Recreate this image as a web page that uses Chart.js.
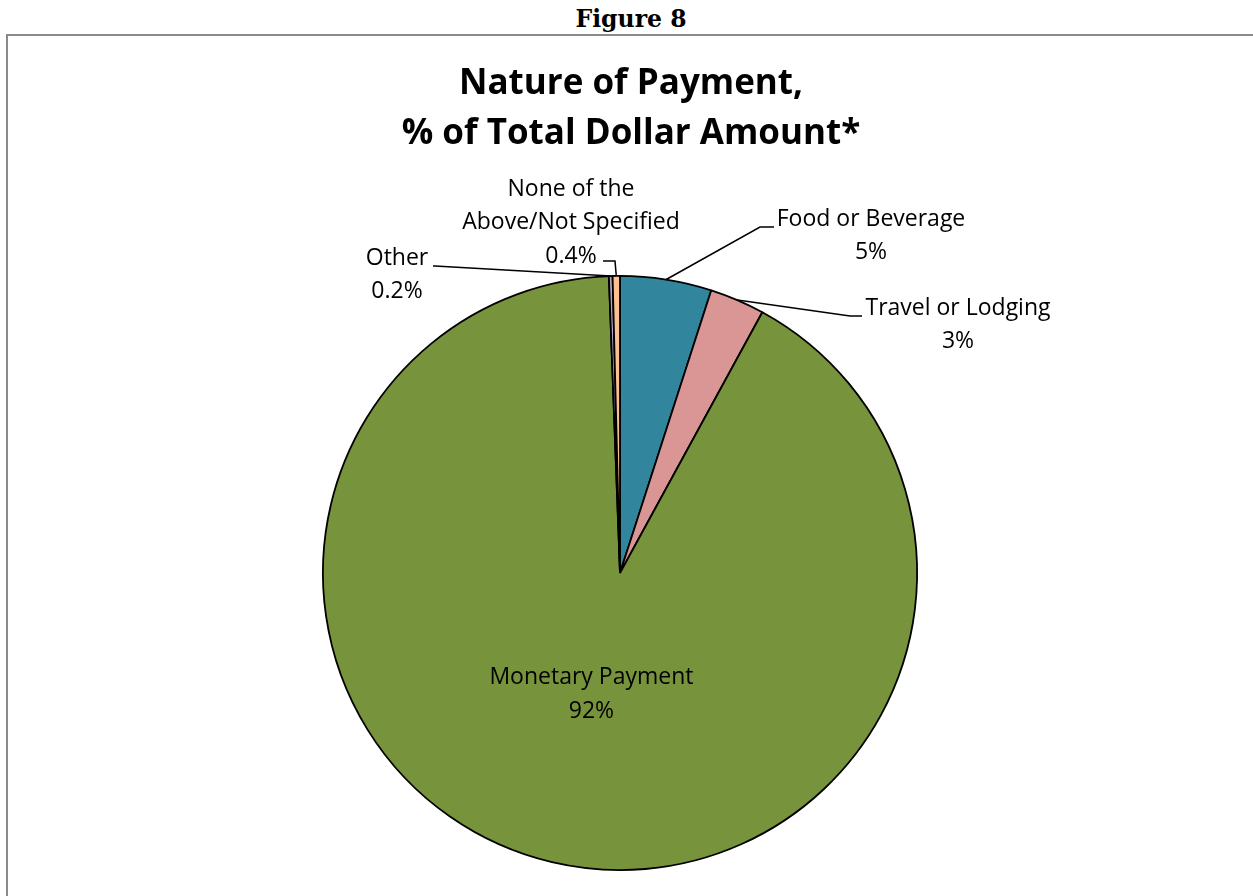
<!DOCTYPE html>
<html>
<head>
<meta charset="utf-8">
<script src="https://cdn.jsdelivr.net/npm/chart.js@4/dist/chart.umd.min.js"></script>
<style>
html, body { margin: 0; padding: 0; background: #fff; overflow: hidden; }
#wrap { position: relative; width: 1253px; height: 896px; }
#fig { position: absolute; left: 0; top: 5px; width: 1262px; text-align: center;
       font: bold 23.5px/28px "DejaVu Serif", serif; color: #000; }
#frame { position: absolute; left: 6px; top: 34px; width: 1300px; height: 900px;
         border-left: 2px solid #8a8a8a; border-top: 2px solid #8a8a8a; }
#myChart { position: absolute; left: 0; top: 0; }
</style>
</head>
<body>
<div id="wrap">
  <div id="fig">Figure 8</div>
  <div id="frame"></div>
  <canvas id="myChart" width="1253" height="896"></canvas>
</div>
<script>
// categories clockwise from 12 o'clock
var categories = [['Food or Beverage'], ['Travel or Lodging'], ['Monetary Payment'], ['Other'], ['None of the', 'Above/Not Specified']];
var percents = [5, 3, 92, 0.2, 0.4];
var sliceColors = ['#31859C', '#D99694', '#77933C', '#B3A2C7', '#FAC090'];

var titleLines = ['Nature of Payment,', '% of Total Dollar Amount*'];

// label placement, offsets from the pie centre (text = first line middle)
var labelPos = [
  { text: [251, -354], elbow: [140, -346], end: [154, -346] },
  { text: [338, -265], elbow: [230, -257], end: [242, -257] },
  { inside: 0.42 },
  { text: [-223, -315], elbow: [-185, -307], end: [-187, -307] },
  { text: [-49, -384], elbow: [-5, -312], end: [-17, -312] }
];

var FONT = '"Open Sans", Lato, sans-serif';
var LINE_H = 33.5;

function pctText(v) {
  return (v < 1 ? v.toFixed(1) : v.toFixed(0)) + '%';
}

var pieLabels = {
  id: 'pieLabels',
  afterDraw: function(chart) {
    var ctx = chart.ctx;
    ctx.save();
    // chart title
    ctx.fillStyle = '#000';
    ctx.textAlign = 'center';
    ctx.textBaseline = 'middle';
    ctx.font = 'bold 35px ' + FONT;
    ctx.fillText(titleLines[0], 631, 84);
    ctx.fillText(titleLines[1], 631, 134);

    var arcs = chart.getDatasetMeta(0).data;
    ctx.font = '23px ' + FONT;
    arcs.forEach(function(arc, i) {
      var p = arc.getProps(['x', 'y', 'startAngle', 'endAngle', 'outerRadius'], true);
      var mid = (p.startAngle + p.endAngle) / 2;
      var lines = categories[i].concat([pctText(percents[i])]);
      var pos = labelPos[i];
      var tx, ty;
      if (pos.inside) {
        var d = p.outerRadius * pos.inside;
        tx = p.x + Math.cos(mid) * d;
        ty = p.y + Math.sin(mid) * d - (lines.length - 1) * LINE_H / 2;
      } else {
        var ex = p.x + Math.cos(mid) * p.outerRadius;
        var ey = p.y + Math.sin(mid) * p.outerRadius;
        ctx.strokeStyle = '#000';
        ctx.lineWidth = 1.5;
        ctx.beginPath();
        ctx.moveTo(ex, ey);
        ctx.lineTo(p.x + pos.elbow[0], p.y + pos.elbow[1]);
        ctx.lineTo(p.x + pos.end[0], p.y + pos.end[1]);
        ctx.stroke();
        tx = p.x + pos.text[0];
        ty = p.y + pos.text[1];
      }
      lines.forEach(function(t, k) {
        ctx.fillText(t, tx, ty + k * LINE_H);
      });
    });
    ctx.restore();
  }
};

var ctx = document.getElementById('myChart');
var grafica = new Chart(ctx, {
  type: 'pie',
  data: {
    labels: categories,
    datasets: [{
      data: percents,
      backgroundColor: sliceColors,
      borderColor: '#000',
      borderWidth: 1.8
    }]
  },
  options: {
    responsive: false,
    animation: false,
    layout: { padding: { top: 275, bottom: 25, left: 322, right: 335 } },
    plugins: {
      legend: { display: false },
      tooltip: { enabled: false }
    }
  },
  plugins: [pieLabels]
});
</script>
</body>
</html>
